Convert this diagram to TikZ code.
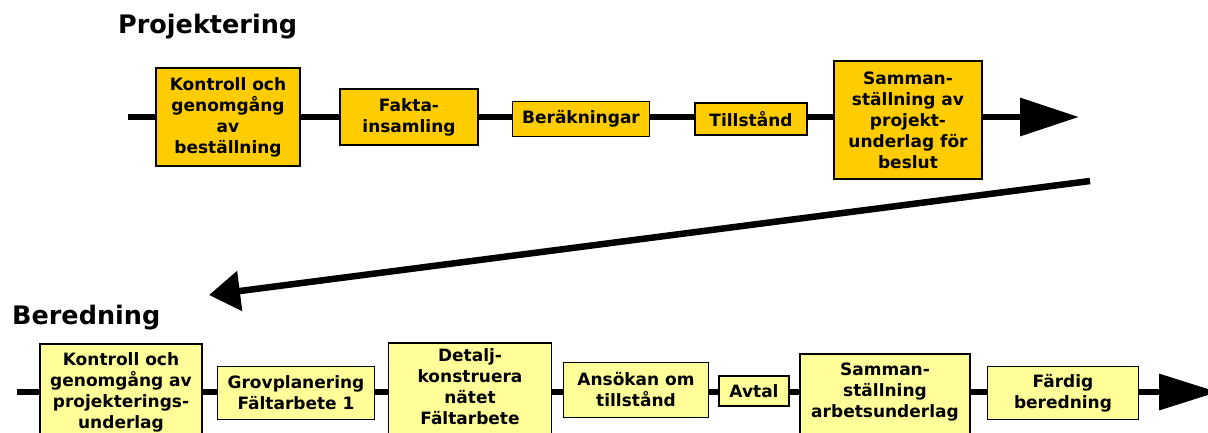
\documentclass[tikz,border=0pt]{standalone}
\usepackage{fontspec}
\setmainfont{DejaVu Sans}
\usepackage{tikz}
\usetikzlibrary{arrows.meta,positioning}
\definecolor{projgul}{HTML}{FFCC00}
\definecolor{beredgul}{HTML}{FFFF99}

\begin{document}
\begin{tikzpicture}[x=1pt,y=-1pt,
  box/.style={draw=black,line width=1.8pt,inner sep=0pt,align=center,font=\bfseries\fontsize{17}{21}\selectfont},
  proj/.style={box,fill=projgul},
  bered/.style={box,fill=beredgul},
  spine/.style={line width=6.5pt,black},
  rubrik/.style={anchor=base west,inner sep=0pt,font=\bfseries\fontsize{25.5}{30}\selectfont}]
\useasboundingbox (0,0) rectangle (1208,432);
\clip (0,0) rectangle (1208,432);

\node[rubrik] (projektering) at (118,33) {Projektering};
\node[rubrik] (beredning) at (12,324) {Beredning};

\coordinate (p0) at (128,117);
\coordinate (p1) at (1079,117);
\draw[spine,-{Triangle[length=59pt,width=37pt]}] (p0) -- (p1);
\node[proj,minimum width=144pt,minimum height=98pt] (kontroll) at (228,117) {Kontroll och\\genomgång\\av\\beställning};
\node[proj,minimum width=138pt,minimum height=56pt] (fakta) at (409,117) {Fakta-\\insamling};
\node[proj,minimum width=137pt,minimum height=35pt] (berakningar) at (581,119) {Beräkningar};
\node[proj,minimum width=112pt,minimum height=32pt] (tillstand) at (751,119) {Tillstånd};
\node[proj,minimum width=148pt,minimum height=118pt] (sammanp) at (908,120) {Samman-\\ställning av\\projekt-\\underlag för\\beslut};

\coordinate (d0) at (1090,181);
\coordinate (d1) at (209,295);
\draw[spine,-{Triangle[length=31pt,width=39pt]}] (d0) -- (d1);

\coordinate (b0) at (17,392);
\coordinate (b1) at (1218,392);
\draw[spine,-{Triangle[length=59pt,width=35pt]}] (b0) -- (b1);
\node[bered,minimum width=162pt,anchor=north,inner ysep=9pt,text depth=80pt] (kontrollb) at (121,343) {Kontroll och\\genomgång av\\projekterings-\\underlag};
\node[bered,minimum width=157pt,minimum height=53pt] (grov) at (296,393) {Grovplanering\\Fältarbete 1};
\node[bered,minimum width=163pt,anchor=north,inner ysep=6pt,text depth=80pt] (detalj) at (470,342) {Detalj-\\konstruera\\nätet\\Fältarbete};
\node[bered,minimum width=145pt,minimum height=55pt] (ansokan) at (636,390) {Ansökan om\\tillstånd};
\node[bered,minimum width=70pt,minimum height=30pt] (avtal) at (754,391) {Avtal};
\node[bered,minimum width=170pt,anchor=north,inner ysep=9pt,text depth=80pt] (sammanb) at (885,353) {Samman-\\ställning\\arbetsunderlag};
\node[bered,minimum width=151pt,minimum height=53pt] (fardig) at (1063,393) {Färdig\\beredning};
\end{tikzpicture}
\end{document}
